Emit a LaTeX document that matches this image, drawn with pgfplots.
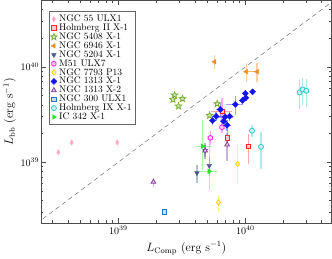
\documentclass[border=0pt]{standalone}
\usepackage{pgfplots}
\pgfplotsset{compat=1.18}
\usetikzlibrary{plotmarks}

\definecolor{cpink}{RGB}{255,165,200}
\definecolor{cred}{RGB}{255,40,40}
\definecolor{colive}{RGB}{120,175,50}
\definecolor{corange}{RGB}{240,140,30}
\definecolor{cslate}{RGB}{70,90,145}
\definecolor{cmag}{RGB}{240,40,240}
\definecolor{cgold}{RGB}{255,210,0}
\definecolor{cblue}{RGB}{20,20,240}
\definecolor{cpurple}{RGB}{130,60,160}
\definecolor{csky}{RGB}{30,120,200}
\definecolor{ccyan}{RGB}{50,200,200}
\definecolor{cgreen}{RGB}{40,230,40}

\pgfdeclareplotmark{fivestar}{%
  \pgfpathmoveto{\pgfpointpolar{90}{1.3\pgfplotmarksize}}%
  \pgfpathlineto{\pgfpointpolar{126}{0.55\pgfplotmarksize}}%
  \pgfpathlineto{\pgfpointpolar{162}{1.3\pgfplotmarksize}}%
  \pgfpathlineto{\pgfpointpolar{198}{0.55\pgfplotmarksize}}%
  \pgfpathlineto{\pgfpointpolar{234}{1.3\pgfplotmarksize}}%
  \pgfpathlineto{\pgfpointpolar{270}{0.55\pgfplotmarksize}}%
  \pgfpathlineto{\pgfpointpolar{306}{1.3\pgfplotmarksize}}%
  \pgfpathlineto{\pgfpointpolar{342}{0.55\pgfplotmarksize}}%
  \pgfpathlineto{\pgfpointpolar{18}{1.3\pgfplotmarksize}}%
  \pgfpathlineto{\pgfpointpolar{54}{0.55\pgfplotmarksize}}%
  \pgfpathclose\pgfusepathqfillstroke}
\pgfdeclareplotmark{hexa}{%
  \pgfpathmoveto{\pgfpointpolar{90}{\pgfplotmarksize}}%
  \pgfpathlineto{\pgfpointpolar{150}{\pgfplotmarksize}}%
  \pgfpathlineto{\pgfpointpolar{210}{\pgfplotmarksize}}%
  \pgfpathlineto{\pgfpointpolar{270}{\pgfplotmarksize}}%
  \pgfpathlineto{\pgfpointpolar{330}{\pgfplotmarksize}}%
  \pgfpathlineto{\pgfpointpolar{30}{\pgfplotmarksize}}%
  \pgfpathclose\pgfusepathqfillstroke}

\pgfplotsset{
  ulx/.style={only marks, mark size=2.7pt, color=#1,
    mark options={fill=#1!25!white, draw=#1, line width=0.8pt, solid},
    error bars/x dir=both, error bars/x explicit,
    error bars/y dir=both, error bars/y explicit,
    error bars/error mark=none,
    error bars/error bar style={line width=1.4pt, opacity=0.4}},
}

\begin{document}
\begin{tikzpicture}
\begin{axis}[
  scale only axis, width=290pt, height=222pt,
  xmode=log, ymode=log,
  xmin=2.45e38, xmax=4.8e40, ymin=2.3e38, ymax=5e40,
  xtick={1e39,1e40}, ytick={1e39,1e40},
  minor xtick={3e38,4e38,5e38,6e38,7e38,8e38,9e38,2e39,3e39,4e39,5e39,6e39,7e39,8e39,9e39,2e40,3e40,4e40},
  minor ytick={3e38,4e38,5e38,6e38,7e38,8e38,9e38,2e39,3e39,4e39,5e39,6e39,7e39,8e39,9e39,2e40,3e40,4e40},
  tick align=inside, tick pos=both,
  major tick length=5pt, minor tick length=2.5pt,
  every tick/.style={black!70, line width=0.5pt},
  axis line style={black!70, line width=0.6pt},
  tick label style={font=\fontsize{10}{12}\selectfont},
  yticklabel style={inner xsep=1.5pt},
  xticklabel style={inner ysep=3pt},
  xlabel={$L_{\rm Comp}$ $(\rm erg\ s^{-1})$},
  ylabel={$L_{\rm bb}$ $(\rm erg\ s^{-1})$},
  label style={font=\fontsize{12}{14}\selectfont},
  xlabel style={at={(axis description cs:0.5,-0.113)}, anchor=center},
  ylabel style={at={(axis description cs:-0.107,0.5)}, anchor=center},
  legend cell align=left,
  legend image code/.code={\draw[mark repeat=2,mark phase=2,#1] plot coordinates {(0cm,0cm) (0.37cm,0cm) (0.74cm,0cm)};},
  legend style={at={(0.028,0.95)}, anchor=north west, draw=black!60,
    font=\fontsize{9.5}{10}\selectfont, row sep=-3.3pt, inner sep=1.5pt},
  clip=true,
]
\addplot[gray, dashed, dash pattern=on 4.5pt off 3.5pt, line width=0.6pt, forget plot] coordinates {(1e38,1e38) (1e41,1e41)};

\addplot[ulx=cpink, mark=diamond*, mark options={xscale=0.75}] coordinates {
(3.37e38,1.27e39) +- (0,0.08e39)
(4.29e38,1.61e39) +- (0,0.1e39)
(9.8e38,1.61e39) +- (0,0.1e39)
};
\addlegendentry{NGC 55 ULX1}

\addplot[ulx=cred, mark=square*, mark size=2.2pt] coordinates {
(6.6e39,3.4e39) +- (1.2e39,0.3e39)
(7.24e39,1.80e39) +- (0,0.4e39)
(1.06e40,1.46e39) +- (0,0.5e39)
};
\addlegendentry{Holmberg II X-1}

\addplot[ulx=colive, mark=fivestar, mark size=2.6pt] coordinates {
(2.77e39,5.05e39) +- (0,0)
(2.69e39,4.55e39) +- (0,0)
(3.2e39,4.63e39) +- (0,0)
(2.98e39,3.87e39) +- (0,0)
(6.01e39,4.1e39) +- (0,0)
(5.23e39,3.09e39) +- (0,0)
};
\addlegendentry{NGC 5408 X-1}

\addplot[ulx=corange, mark=triangle*, mark options={rotate=90}] coordinates {
(5.73e39,1.13e40) +- (0,1.9e39)
(1.02e40,8.9e39) += (2.0e39,2.2e39) -= (0,1.9e39)
(1.24e40,8.9e39) += (0,2.2e39) -= (2.0e39,1.9e39)
};
\addlegendentry{NGC 6946 X-1}

\addplot[ulx=cslate, mark=triangle*, mark options={rotate=180}] coordinates {
(4.16e39,7.7e38) +- (0,1.7e38)
(5.2e39,9.2e38) +- (0,2e38)
(4.83e39,1.32e39) +- (0,2.5e38)
};
\addlegendentry{NGC 5204 X-1}

\addplot[ulx=cmag, mark=hexa, mark size=2.5pt] coordinates {
(6.55e39,2.32e39) += (0,2.4e39) -= (0,0.3e39)
(5.3e39,1.80e39) +- (0,0.3e39)
};
\addlegendentry{M51 ULX7}

\addplot[ulx=cgold, mark=diamond*] coordinates {
(8.7e39,9.6e38) += (0,6e38) -= (0,3.7e38)
(6.15e39,3.78e38) +- (0,0.75e38)
};
\addlegendentry{NGC 7793 P13}

\addplot[ulx=cblue, mark=square*, mark size=2.1pt, mark options={rotate=45}] coordinates {
(1.14e40,5.48e39) +- (0,0.4e39)
(1.0e40,5.26e39) +- (0,0.4e39)
(1.01e40,4.74e39) +- (0,0.4e39)
(9.5e39,4.44e39) +- (0,0.4e39)
(8.34e39,4.03e39) +- (1.3e39,0.9e39)
(6.35e39,3.57e39) +- (0.5e39,0.6e39)
(5.9e39,3.03e39) +- (0.4e39,0.3e39)
(5.52e39,2.73e39) +- (0.3e39,0.3e39)
(6.95e39,2.99e39) +- (1.0e39,0.3e39)
(7.52e39,3.03e39) +- (0.6e39,0.3e39)
(6.74e39,2.69e39) +- (0.4e39,0.3e39)
(7.18e39,2.44e39) +- (0.5e39,0.3e39)
};
\addlegendentry{NGC 1313 X-1}

\addplot[ulx=cpurple, mark=triangle*] coordinates {
(1.89e39,6.2e38) +- (0,0.7e38)
(7.2e39,1.53e39) +- (0,0.5e39)
(4.83e39,1.32e39) +- (0,0.2e39)
};
\addlegendentry{NGC 1313 X-2}

\addplot[ulx=csky, mark=square*, mark size=2.1pt] coordinates {
(2.3e39,3.0e38) +- (0,0.15e38)
};
\addlegendentry{NGC 300 ULX1}

\addplot[ulx=ccyan, mark=*, mark size=2.5pt] coordinates {
(2.68e40,5.4e39) +- (0,1.8e39)
(2.83e40,5.8e39) +- (0,1.8e39)
(3.03e40,5.6e39) +- (0,1.8e39)
(1.13e40,2.14e39) +- (0,0.3e39)
(1.33e40,1.45e39) +- (0,0.6e39)
};
\addlegendentry{Holmberg IX X-1}

\addplot[ulx=cgreen, mark=triangle*, mark options={rotate=-90}] coordinates {
(4.6e39,1.47e39) += (0.9e39,1.3e39) -= (0.6e39,0.64e39)
(5.2e39,8.0e38) += (0.9e39,1.05e39) -= (0.8e39,0.29e39)
};
\addlegendentry{IC 342 X-1}

\end{axis}
\end{tikzpicture}
\end{document}
